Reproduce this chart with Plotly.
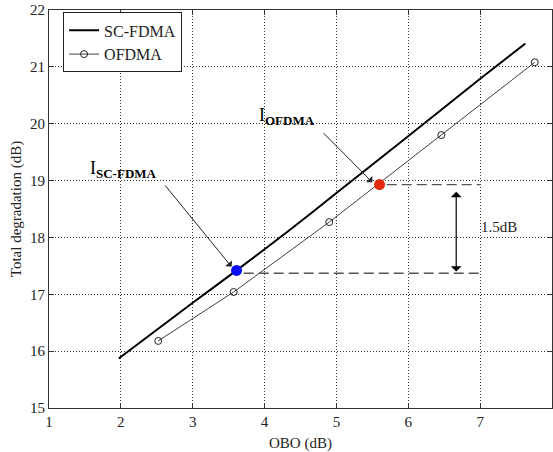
import plotly.graph_objects as go

# ---- data ----
sc_obo = [1.97, 3.0, 3.61, 4.35, 5.0, 5.88, 7.0, 7.63]
sc_deg = [15.87, 16.85, 17.42, 18.13, 18.78, 19.66, 20.79, 21.41]

ofdma_obo = [2.52, 3.57, 4.90, 6.46, 7.76]
ofdma_deg = [16.18, 17.04, 18.27, 19.80, 21.08]

i_sc = (3.61, 17.42)      # blue operating point
i_ofdma = (5.60, 18.93)   # red operating point
ref_end_x = 7.0
low_ref_y = 17.37
gap_x = 6.667
gap_text = "1.5dB"

x_ticks = [1, 2, 3, 4, 5, 6, 7, 8]
y_ticks = [15, 16, 17, 18, 19, 20, 21, 22]

FONT = "Liberation Serif"

fig = go.Figure()

fig.add_trace(go.Scatter(x=sc_obo, y=sc_deg, mode="lines", name="SC-FDMA",
                         line=dict(color="black", width=2, shape="spline", smoothing=0.6),
                         legendgroup="a"))
fig.add_trace(go.Scatter(x=ofdma_obo, y=ofdma_deg, mode="lines+markers", name="OFDMA",
                         line=dict(color="#404040", width=1),
                         marker=dict(symbol="circle-open", size=7, color="#202020",
                                     line=dict(width=1)),
                         legendgroup="b"))

# dashed reference lines
fig.add_trace(go.Scatter(x=[i_ofdma[0] + 0.1, ref_end_x], y=[i_ofdma[1], i_ofdma[1]],
                         mode="lines", showlegend=False,
                         line=dict(color="#555555", width=1.3, dash="10px,5px")))
fig.add_trace(go.Scatter(x=[i_sc[0] + 0.1, ref_end_x], y=[low_ref_y, low_ref_y],
                         mode="lines", showlegend=False,
                         line=dict(color="#555555", width=1.3, dash="10px,5px")))

# operating points
fig.add_trace(go.Scatter(x=[i_sc[0]], y=[i_sc[1]], mode="markers", showlegend=False,
                         marker=dict(color="#0a10f0", size=11)))
fig.add_trace(go.Scatter(x=[i_ofdma[0]], y=[i_ofdma[1]], mode="markers", showlegend=False,
                         marker=dict(color="#e42a0c", size=11)))

SUB = "<sub><span style='font-size:13px'><b>{}</b></span></sub>"

ann = []
# labels
ann.append(dict(x=1.54, y=19.20, xref="x", yref="y", xanchor="left", yanchor="middle",
                text="I" + SUB.format("SC-FDMA"), showarrow=False,
                font=dict(family=FONT, size=18, color="black")))
ann.append(dict(x=3.89, y=20.12, xref="x", yref="y", xanchor="left", yanchor="middle",
                text="I" + SUB.format("OFDMA"), showarrow=False,
                font=dict(family=FONT, size=18, color="black")))
# pointer arrows
ann.append(dict(x=3.54, y=17.485, ax=2.60, ay=18.94, xref="x", yref="y", axref="x", ayref="y",
                text="", showarrow=True, arrowhead=1, arrowsize=1.5, arrowwidth=1,
                arrowcolor="#222222", standoff=0))
ann.append(dict(x=5.50, y=18.97, ax=4.80, ay=19.86, xref="x", yref="y", axref="x", ayref="y",
                text="", showarrow=True, arrowhead=1, arrowsize=1.5, arrowwidth=1,
                arrowcolor="#222222", standoff=0))
# double arrow for the gap
ann.append(dict(x=gap_x, y=17.40, ax=gap_x, ay=18.83, xref="x", yref="y", axref="x", ayref="y",
                text="", showarrow=True, arrowhead=1, startarrowhead=1, arrowside="end+start",
                arrowsize=1.5, startarrowsize=1.5, arrowwidth=1.2, arrowcolor="black",
                standoff=0, startstandoff=0))
ann.append(dict(x=6.98, y=18.18, xref="x", yref="y", xanchor="left", yanchor="middle",
                text=gap_text, showarrow=False,
                font=dict(family=FONT, size=15, color="#222222")))

axis_common = dict(showline=True, linecolor="#333333", linewidth=1, mirror="ticks",
                   ticks="inside", ticklen=5, tickcolor="#333333",
                   showgrid=True, gridcolor="#333333", griddash="1px,2px", gridwidth=1,
                   zeroline=False, automargin=False,
                   tickfont=dict(family=FONT, size=15, color="#222222"))

fig.update_layout(
    width=553, height=452, autosize=False,
    margin=dict(l=49, r=1, t=10, b=44),
    paper_bgcolor="white", plot_bgcolor="white",
    font=dict(family=FONT, size=15, color="#222222"),
    xaxis=dict(range=[1, 8], tickvals=x_ticks, ticktext=[str(v) for v in x_ticks],
               title=dict(text="OBO (dB)", standoff=9, font=dict(family=FONT, size=15)),
               **axis_common),
    yaxis=dict(range=[15, 22], tickvals=y_ticks, ticktext=[str(v) for v in y_ticks],
               title=dict(text="Total degradation (dB)", standoff=4, font=dict(family=FONT, size=15)),
               **axis_common),
    legend=dict(x=0.028, y=0.994, xanchor="left", yanchor="top",
                bgcolor="white", bordercolor="#222222", borderwidth=1,
                font=dict(family=FONT, size=16, color="#222222"),
                traceorder="grouped", tracegroupgap=0),
    annotations=ann,
    showlegend=True,
)

post = ("document.body.style.margin='0px';"
        "document.body.style.overflow='hidden';"
        "Plotly.relayout('{plot_id}', {width: 553, height: 452});")

fig.write_html("out.html", config={"responsive": False, "displayModeBar": False},
               post_script=post)
